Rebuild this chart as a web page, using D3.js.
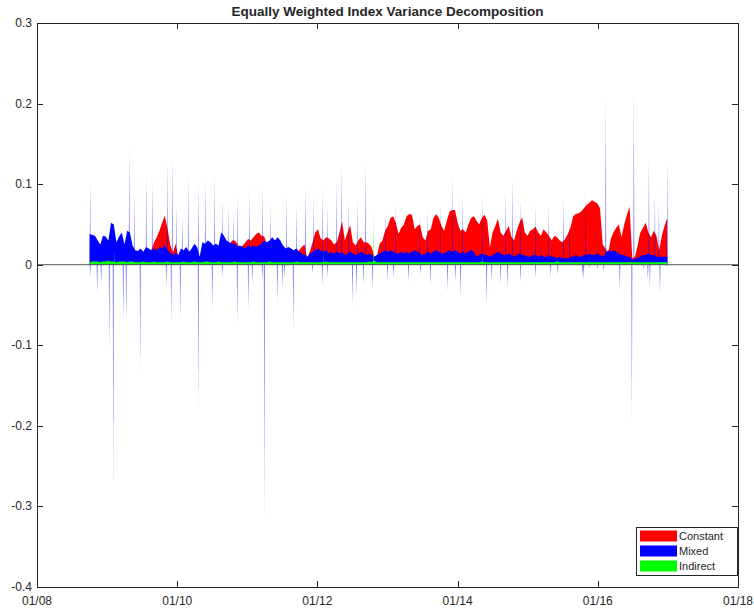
<!DOCTYPE html>
<html>
<head>
<meta charset="utf-8">
<script src="https://cdn.jsdelivr.net/npm/d3@7"></script>
<style>
  body { margin: 0; background: #fff; }
  svg { display: block; }
  text { font-family: "Liberation Sans", Arial, Helvetica, sans-serif; fill: #262626; }
</style>
</head>
<body>
<svg id="chart" width="754" height="610"></svg>
<script>
// ---- data -------------------------------------------------------------
const seriesNames = ["Constant", "Mixed", "Indirect"];
const seriesColors = ["#ff0000", "#0000ff", "#00ff00"];

// biweekly observations, starting 1 Oct 2008
const startDate = "2008-10-01";
const stepDays = 14;

const constant = [
  .000,.005,.008,.010,.012,.014,.015,.015,.016,.015,.014,.016,
  .018,.018,.016,.015,.013,.012,.011,.012,.012,.013,.014,.018,
  .028,.034,.042,.052,.061,.045,.025,.015,.026,.010,.008,.010,
  .012,.012,.010,.012,.012,.010,.014,.016,.018,.016,.018,.020,
  .018,.018,.020,.018,.024,.030,.030,.026,.020,.024,.028,.032,
  .030,.034,.038,.040,.036,.035,.026,.020,.018,.020,.022,.022,
  .012,.010,.014,.014,.016,.014,.018,.022,.025,.008,.016,.028,
  .040,.044,.033,.030,.034,.033,.030,.025,.028,.040,.054,.030,
  .040,.049,.028,.024,.030,.034,.028,.028,.026,.022,.010,.012,
  .026,.030,.042,.048,.058,.060,.052,.038,.046,.050,.060,.063,
  .062,.044,.048,.050,.034,.030,.042,.044,.058,.063,.058,.048,
  .042,.055,.066,.068,.068,.052,.042,.044,.040,.050,.058,.060,
  .055,.050,.058,.062,.055,.022,.040,.048,.057,.040,.036,.042,
  .048,.035,.030,.042,.052,.059,.040,.036,.042,.044,.047,.040,
  .036,.044,.040,.036,.030,.036,.034,.030,.028,.032,.038,.046,
  .060,.063,.064,.066,.070,.074,.077,.080,.078,.076,.070,.025,
  .020,.014,.032,.040,.046,.050,.034,.050,.062,.072,.008,.010,
  .024,.040,.046,.052,.040,.034,.042,.036,.018,.036,.048,.058
];

const mixed = [
  .038,.037,.036,.030,.025,.036,.035,.030,.052,.050,.028,.035,
  .040,.025,.042,.040,.024,.018,.017,.020,.016,.022,.020,.018,
  .020,.018,.022,.020,.024,.018,.015,.012,.014,.012,.020,.018,
  .022,.016,.020,.026,.022,.010,.028,.026,.030,.028,.024,.026,
  .024,.040,.036,.030,.028,.026,.026,.022,.024,.022,.020,.024,
  .022,.024,.022,.024,.026,.030,.028,.030,.034,.030,.034,.030,
  .024,.020,.022,.020,.018,.020,.016,.014,.012,.010,.014,.016,
  .018,.020,.018,.016,.018,.014,.016,.014,.016,.014,.016,.012,
  .014,.016,.014,.012,.014,.016,.014,.012,.014,.012,.010,.012,
  .014,.016,.018,.016,.018,.016,.014,.014,.016,.014,.016,.014,
  .016,.018,.016,.014,.012,.014,.016,.014,.016,.018,.016,.014,
  .014,.016,.018,.016,.018,.016,.014,.016,.014,.016,.018,.016,
  .010,.012,.014,.012,.012,.010,.012,.014,.016,.014,.012,.012,
  .014,.012,.010,.012,.014,.012,.012,.010,.010,.012,.012,.010,
  .012,.010,.010,.012,.010,.010,.008,.010,.008,.008,.008,.010,
  .010,.012,.010,.010,.012,.012,.014,.012,.012,.014,.012,.010,
  .014,.018,.016,.018,.016,.014,.012,.012,.010,.010,.006,.008,
  .008,.010,.012,.012,.014,.012,.012,.010,.010,.010,.010,.010
];

const indirect = [
  .003,.004,.004,.004,.003,.004,.004,.005,.004,.004,.003,.004,
  .004,.004,.003,.004,.004,.003,.003,.003,.004,.003,.003,.003,
  .004,.003,.003,.003,.003,.004,.003,.003,.003,.003,.003,.004,
  .003,.003,.003,.004,.003,.003,.003,.004,.004,.003,.003,.003,
  .004,.003,.003,.003,.003,.003,.004,.003,.003,.003,.003,.003,
  .003,.004,.003,.003,.003,.003,.003,.004,.003,.003,.003,.003,
  .003,.003,.003,.003,.003,.004,.003,.003,.003,.003,.003,.003,
  .003,.003,.003,.003,.004,.003,.003,.003,.003,.003,.003,.003,
  .003,.003,.003,.003,.003,.003,.003,.003,.004,.003,.005,.003,
  .003,.003,.003,.003,.003,.003,.003,.003,.003,.003,.003,.003,
  .003,.003,.003,.003,.003,.003,.003,.003,.003,.003,.003,.003,
  .003,.003,.003,.003,.003,.003,.003,.003,.003,.003,.003,.003,
  .003,.003,.004,.003,.003,.003,.003,.003,.003,.003,.003,.003,
  .003,.003,.003,.003,.003,.003,.003,.003,.003,.003,.003,.003,
  .003,.003,.003,.003,.003,.003,.004,.003,.003,.003,.003,.003,
  .003,.003,.003,.003,.003,.003,.003,.003,.003,.003,.003,.003,
  .003,.003,.003,.003,.003,.003,.003,.003,.003,.003,.003,.003,
  .003,.003,.003,.003,.003,.003,.003,.003,.003,.003,.003,.003
];

// single-day jumps of the Mixed component (decimal year, value)
const mixedSpikeYears = [
  2008.757,2009.043,2009.314,2009.386,2009.557,2009.643,2009.786,2009.857,2009.929,2009.986,
  2010.071,2010.157,2010.300,2010.400,2010.529,2010.643,2010.729,2010.800,2010.857,2011.029,
  2011.214,2011.329,2011.557,2011.700,2011.829,2011.943,2012.071,2012.143,2012.271,2012.343,
  2012.443,2012.571,2012.686,2012.971,2013.114,2013.457,2013.571,2013.757,2013.929,2014.071,
  2014.357,2014.686,2014.786,2014.900,2015.114,2015.300,2015.514,2015.600,2015.829,2016.114,
  2016.514,2016.729,2016.814,2016.871,2016.990,
  2008.757,2008.857,2008.914,2009.029,2009.086,2009.229,2009.271,2009.471,2009.843,2009.914,
  2010.043,2010.300,2010.500,2010.643,2010.857,2011.014,2011.071,2011.214,2011.243,2011.429,
  2011.500,2011.529,2011.657,2011.929,2012.071,2012.143,2012.500,2012.557,2012.657,2012.786,
  2013.000,2013.086,2013.300,2013.471,2013.614,2013.857,2013.971,2014.043,2014.414,2014.486,
  2014.614,2014.714,2014.900,2015.114,2015.329,2015.429,2015.786,2015.800,2015.886,2016.000,
  2016.086,2016.314,2016.486,2016.657,2016.714,2016.743,2016.886,2016.986
];
const mixedSpikeValues = [
  .102,.056,.145,.087,.112,.105,.056,.130,.136,.074,
  .062,.108,.099,.105,.112,.081,.074,.068,.087,.093,
  .099,.074,.087,.074,.099,.087,.093,.074,.105,.124,
  .081,.081,.126,.068,.074,.062,.068,.074,.108,.087,
  .087,.093,.109,.081,.074,.074,.083,.062,.093,.205,
  .219,.130,.089,.077,.130,
  -.015,-.035,-.022,-.105,-.283,-.068,-.072,-.130,-.027,-.072,
  -.068,-.176,-.056,-.015,-.072,-.056,-.022,-.019,-.316,-.047,
  -.031,-.015,-.081,-.010,-.025,-.015,-.050,-.037,-.025,-.031,
  -.019,-.016,-.021,-.012,-.025,-.033,-.021,-.041,-.050,-.021,
  -.025,-.029,-.022,-.016,-.015,-.012,-.015,-.019,-.004,-.006,
  -.009,-.031,-.190,-.006,-.019,-.029,-.035,-.002
];

// single-day jumps of the Indirect component
const indirectSpikeYears  = [2009.100, 2012.086, 2012.800, 2014.357, 2015.414, 2015.886, 2016.429];
const indirectSpikeValues = [.018, .016, .065, .016, .010, .008, .006];

const xTickYears = [2008, 2010, 2012, 2014, 2016, 2018];
const yTickValues = [-0.4, -0.3, -0.2, -0.1, 0, 0.1, 0.2, 0.3];
const chartTitle = "Equally Weighted Index Variance Decomposition";

// ---- helpers ----------------------------------------------------------
const DAY = 864e5;
const t0 = Date.parse(startDate + "T00:00:00Z");
const dateAt = i => new Date(t0 + i * stepDays * DAY);
const fromYear = yr => {
  const y = Math.floor(yr);
  const a = Date.UTC(y, 0, 1), b = Date.UTC(y + 1, 0, 1);
  return new Date(a + (yr - y) * (b - a));
};

// ---- layout -----------------------------------------------------------
const L = 37, R = 738, T = 23, B = 587;
const svg = d3.select("#chart");

const x = d3.scaleUtc()
  .domain([new Date(Date.UTC(2008, 0, 1)), new Date(Date.UTC(2018, 0, 1))])
  .range([L, R]);
const y = d3.scaleLinear().domain([-0.4, 0.3]).range([B, T]);

const area = d3.area()
  .x(d => x(d.date))
  .y0(y(0))
  .y1(d => y(d.v));

const toSeries = arr => arr.map((v, i) => ({ date: dateAt(i), v }));

const plot = svg.append("g");

// overlapping component areas
[constant, mixed].forEach((arr, k) => {
  plot.append("path")
    .datum(toSeries(arr))
    .attr("d", area)
    .attr("fill", seriesColors[k]);
});

// one-day spikes drawn as narrow triangles around their date
function spikes(years, values, color, opacity) {
  const half = 2.5 * DAY;
  years.forEach((yr, i) => {
    const d = fromYear(yr);
    const pts = [
      { date: new Date(+d - half), v: 0 },
      { date: d, v: values[i] },
      { date: new Date(+d + half), v: 0 }
    ];
    plot.append("path").datum(pts).attr("d", area)
      .attr("fill", color).attr("fill-opacity", opacity);
  });
}
spikes(mixedSpikeYears, mixedSpikeValues, seriesColors[1], 0.6);

plot.append("path")
  .datum(toSeries(indirect))
  .attr("d", area)
  .attr("fill", seriesColors[2]);
spikes(indirectSpikeYears, indirectSpikeValues, seriesColors[2], 0.6);

// baseline at zero
svg.append("line")
  .attr("x1", L).attr("x2", R)
  .attr("y1", y(0)).attr("y2", y(0))
  .attr("stroke", "#555").attr("stroke-width", 1);

// ---- axes box and ticks ----------------------------------------------
const axisColor = "#262626";
const tickLen = 6;
const ax = svg.append("g").attr("stroke", axisColor).attr("stroke-width", 1);
ax.append("rect")
  .attr("x", L + 0.5).attr("y", T + 0.5)
  .attr("width", R - L).attr("height", B - T)
  .attr("fill", "none");

xTickYears.forEach(yr => {
  const px = Math.round(x(fromYear(yr))) + 0.5;
  ax.append("line").attr("x1", px).attr("x2", px).attr("y1", B).attr("y2", B - tickLen);
  ax.append("line").attr("x1", px).attr("x2", px).attr("y1", T).attr("y2", T + tickLen);
  svg.append("text")
    .attr("x", x(fromYear(yr))).attr("y", B + 18)
    .attr("text-anchor", "middle").attr("font-size", 12)
    .text(d3.utcFormat("%m/%y")(fromYear(yr)));
});

yTickValues.forEach(v => {
  const py = Math.round(y(v)) + 0.5;
  ax.append("line").attr("x1", L).attr("x2", L + tickLen).attr("y1", py).attr("y2", py);
  ax.append("line").attr("x1", R).attr("x2", R - tickLen).attr("y1", py).attr("y2", py);
  svg.append("text")
    .attr("x", L - 5).attr("y", y(v) + 4)
    .attr("text-anchor", "end").attr("font-size", 12)
    .text(Math.abs(v) < 1e-9 ? "0" : d3.format(".1f")(v).replace("−", "-"));
});

// title
svg.append("text")
  .attr("x", (L + R) / 2).attr("y", 16)
  .attr("text-anchor", "middle")
  .attr("font-size", 13.5).attr("font-weight", "bold")
  .attr("fill", "#000")
  .text(chartTitle);

// ---- legend -----------------------------------------------------------
const lg = svg.append("g").attr("transform", "translate(636,527)");
lg.append("rect")
  .attr("x", 0.5).attr("y", 0.5).attr("width", 101).attr("height", 48)
  .attr("fill", "#fff").attr("stroke", axisColor);
seriesNames.forEach((name, i) => {
  lg.append("rect")
    .attr("x", 4).attr("y", 3.5 + i * 15).attr("width", 37).attr("height", 11)
    .attr("fill", seriesColors[i]);
  lg.append("text")
    .attr("x", 43).attr("y", 13 + i * 15)
    .attr("font-size", 11).attr("fill", "#000")
    .text(name);
});
</script>
</body>
</html>
